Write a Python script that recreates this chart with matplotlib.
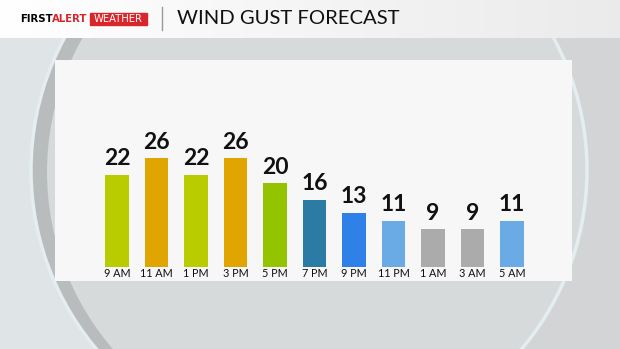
import numpy as np
import matplotlib
matplotlib.use("Agg")
import matplotlib.pyplot as plt
from matplotlib.patches import Rectangle, Circle

hours = ["9 AM", "11 AM", "1 PM", "3 PM", "5 PM", "7 PM", "9 PM", "11 PM", "1 AM", "3 AM", "5 AM"]
gusts = [22, 26, 22, 26, 20, 16, 13, 11, 9, 9, 11]
bar_colors = ["#b8cc00", "#e0a500", "#b8cc00", "#e0a500", "#94c300", "#2c7ba4",
              "#2f80e7", "#6aabe6", "#ababab", "#ababab", "#6aabe6"]
title = "WIND GUST FORECAST"

W, H = 620, 349
fig = plt.figure(figsize=(W / 100, H / 100), dpi=100)

# background in pixel coords
bg = fig.add_axes([0, 0, 1, 1])
bg.set_xlim(0, W)
bg.set_ylim(H, 0)
bg.axis("off")
bg.add_patch(Rectangle((0, 0), W, H, color="#dfe5e7", zorder=0))
bg.add_patch(Rectangle((330, 0), W - 330, H, color="#d3d4d5", zorder=0))
bg.add_patch(Circle((309, 170), 279, facecolor="#b9bcbd", edgecolor="none", zorder=1))
bg.add_patch(Circle((318, 172), 271, facecolor="#d6dadb", edgecolor="none", zorder=1))
bg.add_patch(Circle((309, 170), 278, facecolor="none", edgecolor="#e4edf0", lw=2.5, zorder=1))

# header bar with faint gradient
grad = np.linspace(1.0, 0.92, 256).reshape(1, -1)
bg.imshow(np.dstack([grad, grad, grad]), extent=(0, W, 38, 0), aspect="auto", zorder=2)
bg.set_xlim(0, W)
bg.set_ylim(H, 0)

bg.text(20, 19.5, "FIRST", fontsize=7.3, fontweight="bold", family="DejaVu Sans", color="black",
        va="center", ha="left", zorder=3)
bg.text(51.5, 19.5, "ALERT", fontsize=7.3, fontweight="bold", family="DejaVu Sans", color="#d9262b",
        va="center", ha="left", zorder=3)
bg.add_patch(Rectangle((90, 13), 57, 11.5, color="#d9262b", zorder=3))
bg.text(118.5, 19, "WEATHER", fontsize=7.2, family="DejaVu Sans", color="white",
        va="center", ha="center", zorder=4)
bg.plot([162, 162], [7, 30], color="#9a9a9a", lw=1, zorder=3)
bg.text(177, 19, title, fontsize=14.6, family="Lato", color="#111111",
        va="center", ha="left", zorder=3)

# chart panel
x0, x1, y0, y1 = 55, 572, 60, 281
ax = fig.add_axes([x0 / W, (H - y1) / H, (x1 - x0) / W, (y1 - y0) / H])
ax.set_facecolor("#f7f7f7")
for s in ax.spines.values():
    s.set_visible(False)
ax.set_xticks([])
ax.set_yticks([])

x = np.arange(len(hours))
bars = ax.bar(x, gusts, width=0.6, color=bar_colors, zorder=2)
ax.set_xlim(-1.57, 11.52)
ax.set_ylim(-3.43, 49.6)

for xi, v, lab in zip(x, gusts, hours):
    ax.annotate(str(v), (xi, v), xytext=(0, 4), textcoords="offset points",
                ha="center", va="bottom", fontsize=16.5, fontweight="bold",
                family="Lato", color="#111111")
    ax.text(xi, -1.65, lab, ha="center", va="center", fontsize=7.8,
            family="Lato", color="#111111")

fig.savefig("out.png", dpi=100)
